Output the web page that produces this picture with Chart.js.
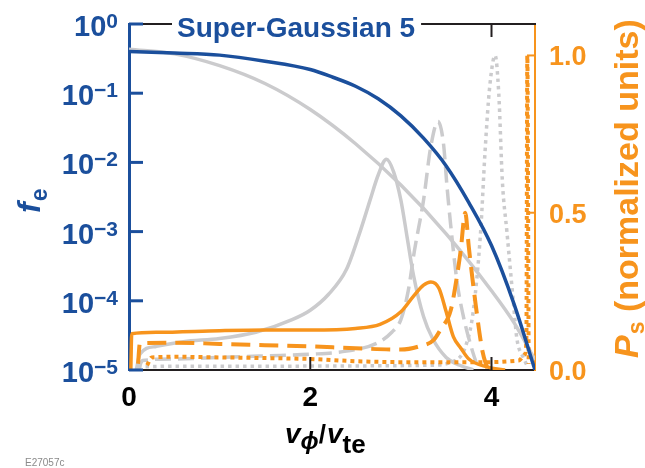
<!DOCTYPE html>
<html>
<head>
<meta charset="utf-8">
<script src="https://cdn.jsdelivr.net/npm/chart.js@4.4.1/dist/chart.umd.min.js"></script>
<style>
  html, body { margin: 0; padding: 0; background: #fff; }
  #wrap { position: relative; width: 645px; height: 468px; }
</style>
</head>
<body>
<div id="wrap"><canvas id="myChart" width="645" height="468"></canvas></div>
<script>
// ---- data ----
// electron distribution f_e (left, log axis)
const sgV  = [0, 0.5, 1.0, 1.5, 2.0, 2.25, 2.5, 2.75, 3.0, 3.25, 3.5, 3.75, 4.0, 4.25, 4.48];
const sgF  = [0.40, 0.38, 0.355, 0.29, 0.22, 0.17, 0.126, 0.083, 0.047, 0.0224, 0.0089, 0.00263, 6.3e-4, 8.9e-5, 1.0e-5];
const mxV  = [0, 0.5, 1.0, 1.5, 2.0, 2.5, 3.0, 3.5, 4.0, 4.25, 4.48];
const mxF  = [0.43, 0.37, 0.25, 0.138, 0.058, 0.0186, 0.0047, 9.3e-4, 1.4e-4, 4.8e-5, 1.4e-5];

// scattered power P_s (right axis, normalized)
const gsV = [0.08, 0.12, 0.3, 0.6, 1.0, 1.4, 1.8, 2.0, 2.2, 2.4, 2.55, 2.66, 2.75, 2.84, 2.92, 3.0, 3.07, 3.14, 3.25, 3.35, 3.5, 3.65, 3.8];
const gsP = [0.0, 0.05, 0.075, 0.09, 0.1, 0.12, 0.16, 0.19, 0.24, 0.32, 0.44, 0.54, 0.62, 0.67, 0.63, 0.54, 0.42, 0.30, 0.17, 0.1, 0.04, 0.015, 0.0];
const gdV = [0.1, 0.15, 0.5, 1.0, 1.5, 2.0, 2.4, 2.74, 2.9, 3.0, 3.08, 3.15, 3.25, 3.33, 3.41, 3.47, 3.51, 3.55, 3.62, 3.69, 3.79, 3.86];
const gdP = [0.0, 0.03, 0.035, 0.04, 0.045, 0.05, 0.06, 0.086, 0.12, 0.16, 0.25, 0.38, 0.54, 0.71, 0.79, 0.72, 0.58, 0.46, 0.28, 0.17, 0.06, 0.0];
const gtV = [0.1, 0.5, 1.5, 2.5, 3.3, 3.6, 3.72, 3.8, 3.88, 3.93, 3.98, 4.04, 4.08, 4.12, 4.17, 4.24, 4.28, 4.35, 4.4];
const gtP = [0.01, 0.012, 0.012, 0.013, 0.015, 0.03, 0.08, 0.19, 0.44, 0.7, 0.9, 1.0, 0.88, 0.6, 0.44, 0.22, 0.1, 0.04, 0.01];
const osV = [0.02, 0.03, 0.3, 1.0, 1.5, 2.0, 2.5, 2.77, 3.0, 3.14, 3.25, 3.33, 3.42, 3.5, 3.58, 3.66, 3.75, 3.95, 4.15];
const osP = [0.0, 0.115, 0.12, 0.125, 0.127, 0.127, 0.132, 0.145, 0.185, 0.235, 0.27, 0.28, 0.26, 0.185, 0.105, 0.07, 0.035, 0.01, 0.0];
const odV = [0.1, 0.12, 0.5, 1.0, 1.5, 2.0, 2.5, 3.0, 3.2, 3.36, 3.44, 3.55, 3.62, 3.66, 3.71, 3.75, 3.82, 3.9, 3.96];
const odP = [0.02, 0.085, 0.087, 0.083, 0.079, 0.075, 0.069, 0.065, 0.075, 0.095, 0.13, 0.19, 0.3, 0.38, 0.5, 0.39, 0.22, 0.06, 0.0];
const otV = [0.2, 0.25, 0.5, 1.0, 1.5, 2.0, 2.5, 3.0, 3.5, 4.0, 4.3, 4.37, 4.385, 4.395, 4.41];
const otP = [0.015, 0.04, 0.042, 0.04, 0.038, 0.035, 0.028, 0.025, 0.025, 0.025, 0.03, 0.05, 0.1, 1.0, 0.02];

// ticks
const fTickExp = [0, -1, -2, -3, -4, -5];
const vTicks = [0, 2, 4];
const pTicks = [0.0, 0.5, 1.0];

const BLUE = '#1b4f9c';
const ORANGE = '#f7941d';
const GRAY = '#cbcbcd';
const BLACK = '#231f20';
const FONT = "'Liberation Sans', Arial, sans-serif";

const pts = (xs, ys) => xs.map((v, i) => ({x: v, y: ys[i]}));
const line = (label, xs, ys, color, width, dash, axis) => ({
  label: label,
  data: pts(xs, ys),
  borderColor: color,
  borderWidth: width,
  borderDash: dash,
  borderCapStyle: 'butt',
  pointRadius: 0,
  fill: false,
  cubicInterpolationMode: 'monotone',
  yAxisID: axis
});

const decor = {
  id: 'decor',
  afterDraw(chart) {
    const {ctx, chartArea: a, scales} = chart;
    const sx = scales.x, sy = scales.y, sp = scales.y2;
    const seg = (x1, y1, x2, y2, c, w) => {
      ctx.strokeStyle = c; ctx.lineWidth = w;
      ctx.beginPath(); ctx.moveTo(x1, y1); ctx.lineTo(x2, y2); ctx.stroke();
    };
    ctx.save();
    // top frame + ticks
    seg(a.left, a.top, a.right + 1, a.top, BLACK, 2);
    vTicks.slice(1).forEach(v => {
      const px = sx.getPixelForValue(v);
      seg(px, a.bottom, px, a.bottom - 13, BLACK, 2);
      seg(px, a.top, px, a.top + 13, BLACK, 2);
    });
    fTickExp.forEach(e => {
      const py = sy.getPixelForValue(Math.pow(10, e));
      seg(a.left, py, a.left + 14, py, BLUE, 3);
    });
    pTicks.slice(1).forEach(p => {
      const py = sp.getPixelForValue(p);
      seg(a.right, py, a.right - 8, py, ORANGE, 2);
    });

    // title box over the top frame
    ctx.font = 'bold 28px ' + FONT;
    const title = 'Super-Gaussian 5';
    const tw = ctx.measureText(title).width;
    ctx.fillStyle = '#fff';
    ctx.fillRect(a.left + 43, a.top - 8, tw + 11, 20);
    ctx.fillStyle = BLUE;
    ctx.textBaseline = 'alphabetic';
    ctx.textAlign = 'left';
    ctx.fillText(title, a.left + 48, a.top + 13);

    // left tick labels 10^n
    fTickExp.forEach(e => {
      const py = sy.getPixelForValue(Math.pow(10, e));
      const ex = e === 0 ? '0' : '\u2212' + (-e);
      ctx.font = 'bold 21px ' + FONT;
      const ew = ctx.measureText(ex).width;
      ctx.fillStyle = BLUE;
      ctx.textAlign = 'right';
      ctx.fillText(ex, a.left - 11, py + 4);
      ctx.font = 'bold 29px ' + FONT;
      ctx.fillText('10', a.left - 11 - ew, py + 12);
    });

    // right tick labels
    ctx.font = 'bold 27px ' + FONT;
    ctx.fillStyle = ORANGE;
    ctx.textAlign = 'left';
    pTicks.forEach(p => {
      const py = sp.getPixelForValue(p);
      ctx.fillText(p.toFixed(1), a.right + 14, py + 10);
    });

    // bottom tick labels
    ctx.font = 'bold 28px ' + FONT;
    ctx.fillStyle = '#000';
    ctx.textAlign = 'center';
    vTicks.forEach(v => {
      ctx.fillText(String(v), sx.getPixelForValue(v), a.bottom + 36);
    });

    // x title v_phi / v_te
    ctx.textAlign = 'left';
    let cx = 285;
    const put = (t, f, dy) => {
      ctx.font = f; ctx.fillText(t, cx, 443 + dy); cx += ctx.measureText(t).width;
    };
    put('v', 'italic bold 28px ' + FONT, 0);
    put('\u03d5', 'italic bold 24px ' + FONT, 6);
    put('/', 'bold 26px ' + FONT, 0);
    cx += 1;
    put('v', 'italic bold 28px ' + FONT, 0);
    put('te', 'bold 26px ' + FONT, 10);

    // left title f_e
    ctx.save();
    ctx.translate(40, 213);
    ctx.rotate(-Math.PI / 2);
    ctx.fillStyle = BLUE;
    ctx.font = 'italic bold 32px ' + FONT;
    ctx.fillText('f', 0, 0);
    const fw = ctx.measureText('f').width;
    ctx.font = 'bold 23px ' + FONT;
    ctx.fillText('e', fw + 1, 7);
    ctx.restore();

    // right title P_s (normalized units)
    ctx.save();
    ctx.translate(638, 358);
    ctx.rotate(-Math.PI / 2);
    ctx.fillStyle = ORANGE;
    ctx.font = 'italic bold 34px ' + FONT;
    ctx.fillText('P', 0, 0);
    let rx = ctx.measureText('P').width + 1;
    ctx.font = 'bold 23px ' + FONT;
    ctx.fillText('s', rx, 6);
    rx += ctx.measureText('s').width;
    ctx.font = 'bold 34px ' + FONT;
    ctx.fillText(' (normalized units)', rx, 0);
    ctx.restore();

    // figure id
    ctx.font = '10px ' + FONT;
    ctx.fillStyle = '#8a8a8a';
    ctx.fillText('E27057c', 25, 466);
    ctx.restore();
  }
};

const ctx = document.getElementById('myChart');
const chart = new Chart(ctx, {
  type: 'line',
  data: {
    datasets: [
      line('Super-Gaussian 5', sgV, sgF, BLUE, 3.5, [], 'y'),
      line('P_s solid', osV, osP, ORANGE, 3.5, [], 'y2'),
      line('P_s dashed', odV, odP, ORANGE, 4, [19, 9], 'y2'),
      line('P_s dotted', otV, otP, ORANGE, 4, [4, 4], 'y2'),
      line('Maxwellian', mxV, mxF, GRAY, 3.5, [], 'y'),
      line('gray solid', gsV, gsP, GRAY, 3.5, [], 'y2'),
      line('gray dashed', gdV, gdP, GRAY, 3.5, [16, 7], 'y2'),
      line('gray dotted', gtV, gtP, GRAY, 3.5, [3.5, 4], 'y2')
    ]
  },
  options: {
    responsive: false,
    animation: false,
    devicePixelRatio: 1,
    layout: { padding: { left: 129, right: 110, top: 24, bottom: 98 } },
    plugins: { legend: { display: false }, tooltip: { enabled: false } },
    scales: {
      x: {
        type: 'linear', min: 0, max: 4.48,
        ticks: { display: false },
        grid: { display: false, drawTicks: false },
        border: { display: true, color: BLACK, width: 2 }
      },
      y: {
        type: 'logarithmic', position: 'left', min: 1e-5, max: 1,
        ticks: { display: false },
        grid: { display: false, drawTicks: false },
        border: { display: true, color: BLUE, width: 3 }
      },
      y2: {
        type: 'linear', position: 'right', min: 0, max: 1.1,
        ticks: { display: false },
        grid: { display: false, drawTicks: false },
        border: { display: true, color: ORANGE, width: 2 }
      }
    }
  },
  plugins: [decor]
});
</script>
</body>
</html>
